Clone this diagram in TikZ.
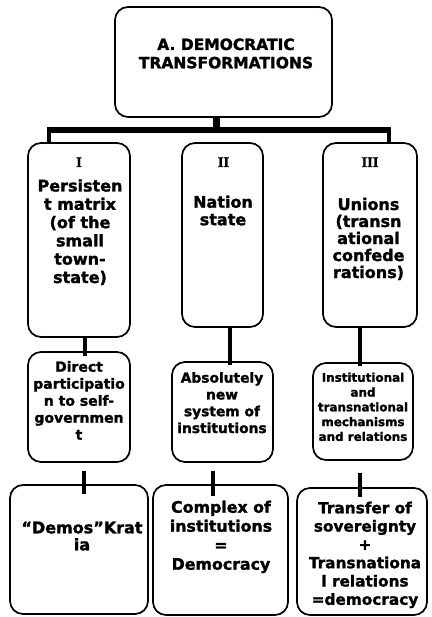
\documentclass[tikz,border=0pt]{standalone}
\usepackage{fontspec}
\setmainfont{DejaVu Sans}[BoldFeatures={FakeBold=1.5}]
\newfontfamily\numfont{Liberation Serif}[BoldFeatures={FakeBold=1.5}]
\usetikzlibrary{calc}
\begin{document}
\begin{tikzpicture}[x=1pt,y=-1pt,
  box/.style={draw, line width=1.7pt, rounded corners=13pt, inner sep=0pt},
  txt/.style={align=center, inner sep=0pt, anchor=base},
  num/.style={inner sep=0pt, anchor=base, font=\numfont\bfseries\fontsize{14.5}{16}\selectfont},
  link/.style={line width=4.5pt},
]
\path[fill=white, use as bounding box] (0,0) rectangle (431,617);

% boxes
\node[box, minimum width=217pt, minimum height=110pt] (top) at (223.5,62) {};
\node[box, minimum width=102pt, minimum height=194pt] (b1) at (79,240) {};
\node[box, minimum width=81pt, minimum height=184pt] (b2) at (222.5,235) {};
\node[box, minimum width=94pt, minimum height=184pt] (b3) at (370,235) {};
\node[box, minimum width=102pt, minimum height=110pt] (b2a) at (79,407) {};
\node[box, minimum width=101pt, minimum height=100pt] (b2b) at (222.5,412) {};
\node[box, minimum width=100pt, minimum height=97pt] (b2c) at (363,411.5) {};
\node[box, minimum width=138pt, minimum height=129pt] (b3a) at (79,549.5) {};
\node[box, minimum width=135pt, minimum height=130pt] (b3b) at (220.5,550) {};
\node[box, minimum width=130pt, minimum height=127pt] (b3c) at (362,551.5) {};

% texts (anchor base = baseline of the last line)
\node[txt, font=\bfseries\fontsize{15.5}{18.3}\selectfont] (t0) at (226,68.3) {A. DEMOCRATIC\\TRANSFORMATIONS};
\node[num] (n1) at (79,167) {I};
\node[num] (n2) at (223.5,167) {II};
\node[num] (n3) at (370,167) {III};
\node[txt, font=\bfseries\fontsize{16}{18.3}\selectfont] (t1) at (80,283) {Persisten\\t matrix\\(of the\\small\\town-\\state)};
\node[txt, font=\bfseries\fontsize{16}{17.5}\selectfont] (t2) at (223,225.2) {Nation\\state};
\node[txt, font=\bfseries\fontsize{16}{17}\selectfont] (t3) at (368.5,278) {Unions\\(transn\\ational\\confede\\rations)};
\node[txt, font=\bfseries\fontsize{14}{17}\selectfont] (t2a) at (79,439.7) {Direct\\participatio\\n to self-\\governmen\\t};
\node[txt, font=\bfseries\fontsize{13.8}{16.8}\selectfont] (t2b) at (222,433) {Absolutely\\new\\system of\\institutions};
\node[txt, font=\bfseries\fontsize{11.9}{14.8}\selectfont] (t2c) at (363,440.9) {Institutional\\and\\transnational\\mechanisms\\and relations};
\node[txt, font=\bfseries\fontsize{16}{17}\selectfont] (t3a) at (82,550.3) {“Demos”Krat\\ia};
\node[txt, font=\bfseries\fontsize{15.8}{19}\selectfont] (t3b) at (221,569.7) {Complex of\\institutions\\=\\Democracy};
\node[txt, font=\bfseries\fontsize{15.3}{18.3}\selectfont] (t3c) at (365,604.8) {Transfer of\\sovereignty\\+\\Transnationa\\l relations\\=democracy};

% connector coordinates
\coordinate (barL) at (47,130);
\coordinate (barR) at (391,130);
\coordinate (stem) at (216,130);
\coordinate (d1) at (49,130);
\coordinate (d3) at (389,130);
\coordinate (x1) at (85,0);
\coordinate (x2) at (230,0);
\coordinate (x3) at (360,0);
\coordinate (y1) at (84,0);
\coordinate (y2) at (213,0);

% connectors
\draw[line width=7pt] (stem |- top.south) -- (stem);
\draw[line width=6.5pt] (barL) -- (barR);
\draw[line width=4pt] (d1) -- (d1 |- b1.north);
\draw[line width=4pt] (d3) -- (d3 |- b3.north);
\draw[link, shorten >=-5pt] (x1 |- b1.south) -- (x1 |- b2a.north);
\draw[link, shorten >=-4pt] (x2 |- b2.south) -- (x2 |- b2b.north);
\draw[link, shorten >=-4pt] (x3 |- b3.south) -- (x3 |- b2c.north);
\draw[link, shorten <=8pt, shorten >=-10pt] (y1 |- b2a.south) -- (y1 |- b3a.north);
\draw[link, shorten <=8pt, shorten >=-12pt] (y2 |- b2b.south) -- (y2 |- b3b.north);
\draw[link, shorten <=12pt, shorten >=-10pt] (x3 |- b2c.south) -- (x3 |- b3c.north);
\end{tikzpicture}
\end{document}
